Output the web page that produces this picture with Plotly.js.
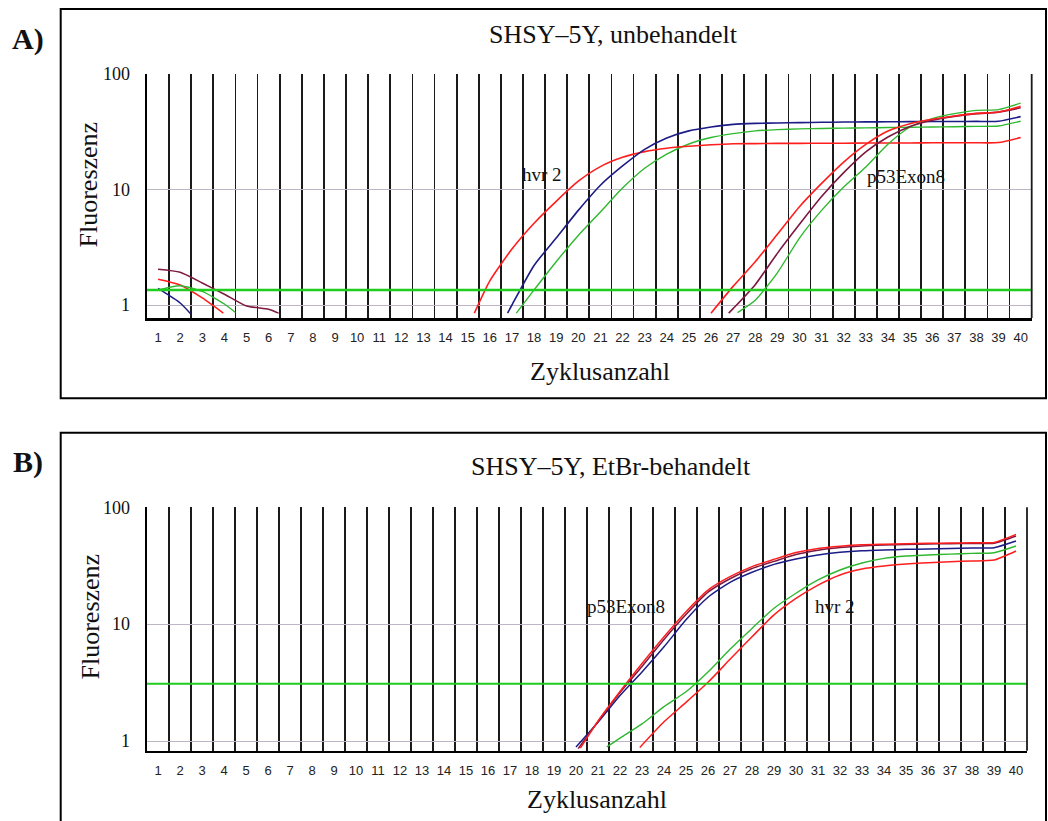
<!DOCTYPE html>
<html><head><meta charset="utf-8">
<script src="https://cdn.plot.ly/plotly-3.0.1.min.js"></script>
<style>html,body{margin:0;padding:0;background:#fff}#chart{width:1048px;height:821px}</style>
</head><body><div id="chart"></div>
<script>
// ---- tick labels ----
const cycleTicks = [1,2,3,4,5,6,7,8,9,10,11,12,13,14,15,16,17,18,19,20,21,22,23,24,25,26,27,28,29,30,31,32,33,34,35,36,37,38,39,40];
const cycleLabels = ['1','2','3','4','5','6','7','8','9','10','11','12','13','14','15','16','17','18','19','20','21','22','23','24','25','26','27','28','29','30','31','32','33','34','35','36','37','38','39','40'];
const fluorTicks = [1,10,100];
const fluorLabels = ['1','10','100'];

// ---- Panel A: SHSY-5Y, unbehandelt ----
const thresholdA = 1.35;
const aEarlyMaroonX = [1,2,3,4,5,6,6.45];
const aEarlyMaroonY = [2.04,1.92,1.55,1.24,0.98,0.92,0.85];
const aEarlyRedX = [1,2,3,3.95];
const aEarlyRedY = [1.67,1.49,1.15,0.85];
const aEarlyGreenX = [1,2,3,4,4.5];
const aEarlyGreenY = [1.35,1.47,1.31,1.02,0.86];
const aEarlyBlueX = [1,2,2.47];
const aEarlyBlueY = [1.39,1.04,0.84];

const aHvrRedX = [15.3,16,17,18,19,20,21,22,23,24,25,26,27,28,29,30,31,32,33,34,35,36,37,38,39,40];
const aHvrRedY = [0.85,1.62,3.05,5.1,7.9,11.8,15.8,19.0,21.3,22.8,23.7,24.4,24.9,25.0,25.1,25.1,25.2,25.2,25.3,25.3,25.3,25.4,25.4,25.4,25.5,28.2];
const aHvrBlueX = [16.8,17,18,19,20,21,22,23,24,25,26,27,28,29,30,31,32,33,34,35,36,37,38,39,40];
const aHvrBlueY = [0.85,1.0,2.2,3.8,6.6,10.9,16.0,22.3,28.0,32.2,34.8,36.7,37.4,37.7,38.0,38.2,38.4,38.5,38.6,38.7,38.8,38.8,38.9,39.0,42.8];
const aHvrGreenX = [17.2,18,19,20,21,22,23,24,25,26,27,28,29,30,31,32,33,34,35,36,37,38,39,40];
const aHvrGreenY = [0.85,1.35,2.37,4.0,6.4,10.3,15.3,20.3,24.8,28.2,30.5,32.2,33.0,33.5,33.8,34.0,34.2,34.4,34.6,34.8,35.0,35.2,35.5,39.0];

const aP53RedX = [26.0,27,28,29,30,31,32,33,34,35,36,37,38,39,40];
const aP53RedY = [0.85,1.45,2.37,4.1,7.1,11.3,17.3,24.6,32.1,37.2,40.6,43.4,45.7,46.9,52.5];
const aP53MaroonX = [26.8,27,28,29,30,31,32,33,34,35,36,37,38,39,40];
const aP53MaroonY = [0.85,0.93,1.5,2.8,5.0,8.7,14.0,21.2,28.5,35.2,39.8,43.0,45.4,46.8,51.0];
const aP53GreenX = [27.2,28,29,30,31,32,33,34,35,36,37,38,39,40];
const aP53GreenY = [0.86,1.10,1.9,3.8,6.6,10.5,15.7,24.7,34.8,41.1,45.4,48.5,49.2,56.0];

// ---- Panel B: SHSY-5Y, EtBr-behandelt ----
const thresholdB = 3.09;
const bP53RedX = [20.2,21,22,23,24,25,26,27,28,29,30,31,32,33,34,35,36,37,38,39,40];
const bP53RedY = [0.87,1.48,2.65,4.6,7.8,12.8,19.6,25.5,31.1,35.9,41.0,44.5,46.5,47.8,48.4,48.9,49.2,49.5,49.8,50.1,58.7];
const bP53MaroonX = [20.1,21,22,23,24,25,26,27,28,29,30,31,32,33,34,35,36,37,38,39,40];
const bP53MaroonY = [0.86,1.47,2.6,4.35,7.4,12.1,18.8,24.5,30.0,34.5,39.5,43.0,45.3,46.8,47.6,48.2,48.6,48.9,49.1,49.3,56.9];
const bP53BlueX = [20.0,21,22,23,24,25,26,27,28,29,30,31,32,33,34,35,36,37,38,39,40];
const bP53BlueY = [0.89,1.45,2.45,3.9,6.4,10.9,17.0,22.8,27.8,32.5,36.1,39.1,41.2,42.5,43.2,43.7,44.1,44.5,44.9,45.2,51.5];
const bHvrGreenX = [21.4,22,23,24,25,26,27,28,29,30,31,32,33,34,35,36,37,38,39,40];
const bHvrGreenY = [0.89,1.06,1.40,1.97,2.64,3.9,6.1,9.2,13.7,18.4,23.9,29.1,33.4,36.6,38.3,39.1,39.8,40.4,40.9,46.7];
const bHvrRedX = [22.9,24,25,26,27,28,29,30,31,32,33,34,35,36,37,38,39,40];
const bHvrRedY = [0.88,1.46,2.14,3.18,5.0,7.8,12.0,16.6,21.6,26.4,29.7,31.5,32.7,33.6,34.3,34.7,35.4,42.3];

// ---- styles ----
const RED = '#ff1e1e', BLUE = '#1c1c86', GREEN = '#2fb82f', MAROON = '#7e1840', THR = '#1fcc1f';
const SERIF = 'Liberation Serif, Times New Roman, Times, serif';
const SANS = 'Liberation Sans, Arial, Helvetica, sans-serif';

function tr(x, y, color, w, xa, ya) {
  return {x: x, y: y, type: 'scatter', mode: 'lines', xaxis: xa, yaxis: ya,
    line: {color: color, width: w, shape: 'spline', smoothing: 0.6}, hoverinfo: 'skip'};
}

const data = [
  tr(aEarlyMaroonX, aEarlyMaroonY, MAROON, 1.5, 'x', 'y'),
  tr(aEarlyRedX, aEarlyRedY, RED, 1.5, 'x', 'y'),
  tr(aEarlyGreenX, aEarlyGreenY, GREEN, 1.4, 'x', 'y'),
  tr(aEarlyBlueX, aEarlyBlueY, BLUE, 1.5, 'x', 'y'),
  tr(aHvrGreenX, aHvrGreenY, GREEN, 1.4, 'x', 'y'),
  tr(aHvrRedX, aHvrRedY, RED, 1.6, 'x', 'y'),
  tr(aHvrBlueX, aHvrBlueY, BLUE, 1.6, 'x', 'y'),
  tr(aP53GreenX, aP53GreenY, GREEN, 1.4, 'x', 'y'),
  tr(aP53MaroonX, aP53MaroonY, MAROON, 1.6, 'x', 'y'),
  tr(aP53RedX, aP53RedY, RED, 1.6, 'x', 'y'),
  tr(bHvrGreenX, bHvrGreenY, GREEN, 1.4, 'x2', 'y2'),
  tr(bHvrRedX, bHvrRedY, RED, 1.5, 'x2', 'y2'),
  tr(bP53BlueX, bP53BlueY, BLUE, 1.5, 'x2', 'y2'),
  tr(bP53MaroonX, bP53MaroonY, MAROON, 1.5, 'x2', 'y2'),
  tr(bP53RedX, bP53RedY, RED, 1.5, 'x2', 'y2')
];

const W = 1048, H = 821;
const px = v => v / W, py = v => 1 - v / H;

function xax(domain, anchor) {
  return {domain: domain, anchor: anchor, range: [0.5, 40.5], tickmode: 'array',
    tickvals: cycleTicks, ticktext: cycleLabels, showgrid: false, zeroline: false,
    showline: true, linecolor: '#000', linewidth: 2.5, ticks: '',
    tickfont: {family: SANS, size: 13, color: '#222'}, ticklabelstandoff: 6,
    minor: {tickmode: 'linear', tick0: 0.5, dtick: 1, showgrid: true, gridcolor: '#1a1a1a', gridwidth: 1.8, ticks: ''},
    fixedrange: true};
}
function yax(domain, anchor, bottom) {
  return {domain: domain, anchor: anchor, type: 'log', range: [bottom, 2.0005], tickmode: 'array',
    tickvals: fluorTicks, ticktext: fluorLabels, showgrid: true, gridcolor: '#bdb5c6', gridwidth: 1,
    showline: true, linecolor: '#000', linewidth: 2.5, ticks: '', zeroline: false,
    tickfont: {family: SERIF, size: 18, color: '#111'}, ticklabelstandoff: 11, fixedrange: true};
}

function ann(text, x, y, size, opts) {
  return Object.assign({text: text, x: x, y: y, xref: 'paper', yref: 'paper', showarrow: false,
    xanchor: 'center', yanchor: 'middle', font: {family: SERIF, size: size, color: '#111'}}, opts || {});
}
function lab(text, x, y, xa, ya) {
  return {text: text, x: x, y: Math.log10(y), xref: xa, yref: ya, showarrow: false,
    xanchor: 'center', yanchor: 'middle', font: {family: SERIF, size: 19, color: '#111'}};
}

const layout = {
  width: W, height: H, margin: {l: 0, r: 0, t: 0, b: 0},
  paper_bgcolor: '#fff', plot_bgcolor: '#fff', showlegend: false, hovermode: false,
  xaxis: xax([px(147), px(1031.7)], 'y'),
  yaxis: yax([py(318), py(74)], 'x', -0.1126),
  xaxis2: xax([px(147), px(1027)], 'y2'),
  yaxis2: yax([py(750.7), py(507.3)], 'x2', -0.083),
  shapes: [
    {type: 'rect', xref: 'paper', yref: 'paper', x0: px(60.7), x1: px(1046), y0: py(398.3), y1: py(9), line: {color: '#000', width: 2}},
    {type: 'rect', xref: 'paper', yref: 'paper', x0: px(60.7), x1: px(1046), y0: -0.02, y1: py(432.7), line: {color: '#000', width: 2}},
    {type: 'line', xref: 'x domain', yref: 'y', x0: 0, x1: 1, y0: thresholdA, y1: thresholdA, line: {color: THR, width: 2.6}},
    {type: 'line', xref: 'x2 domain', yref: 'y2', x0: 0, x1: 1, y0: thresholdB, y1: thresholdB, line: {color: THR, width: 2.2}},
    {type: 'line', xref: 'x domain', yref: 'y domain', x0: 1, x1: 1, y0: 0, y1: 1, line: {color: '#1a1a1a', width: 1.8}},
    {type: 'line', xref: 'x2 domain', yref: 'y2 domain', x0: 1, x1: 1, y0: 0, y1: 1, line: {color: '#1a1a1a', width: 1.8}}
  ],
  annotations: [
    ann('<b>A)</b>', px(28), py(39.5), 30),
    ann('<b>B)</b>', px(28), py(462), 30),
    ann('SHSY–5Y, unbehandelt', px(613), py(34.5), 26),
    ann('SHSY–5Y, EtBr-behandelt', px(611), py(466), 26),
    ann('Zyklusanzahl', px(600), py(371), 26),
    ann('Zyklusanzahl', px(597), py(799), 26),
    ann('Fluoreszenz', px(87.5), py(185), 26, {textangle: -90}),
    ann('Fluoreszenz', px(89.5), py(617), 26, {textangle: -90}),
    lab('hvr 2', 18.34, 13.6, 'x', 'y'),
    lab('p53Exon8', 34.83, 13.0, 'x', 'y'),
    lab('p53Exon8', 22.25, 14.3, 'x2', 'y2'),
    lab('hvr 2', 31.76, 14.3, 'x2', 'y2')
  ]
};

Plotly.newPlot('chart', data, layout, {staticPlot: true, displayModeBar: false});
</script>
</body></html>
